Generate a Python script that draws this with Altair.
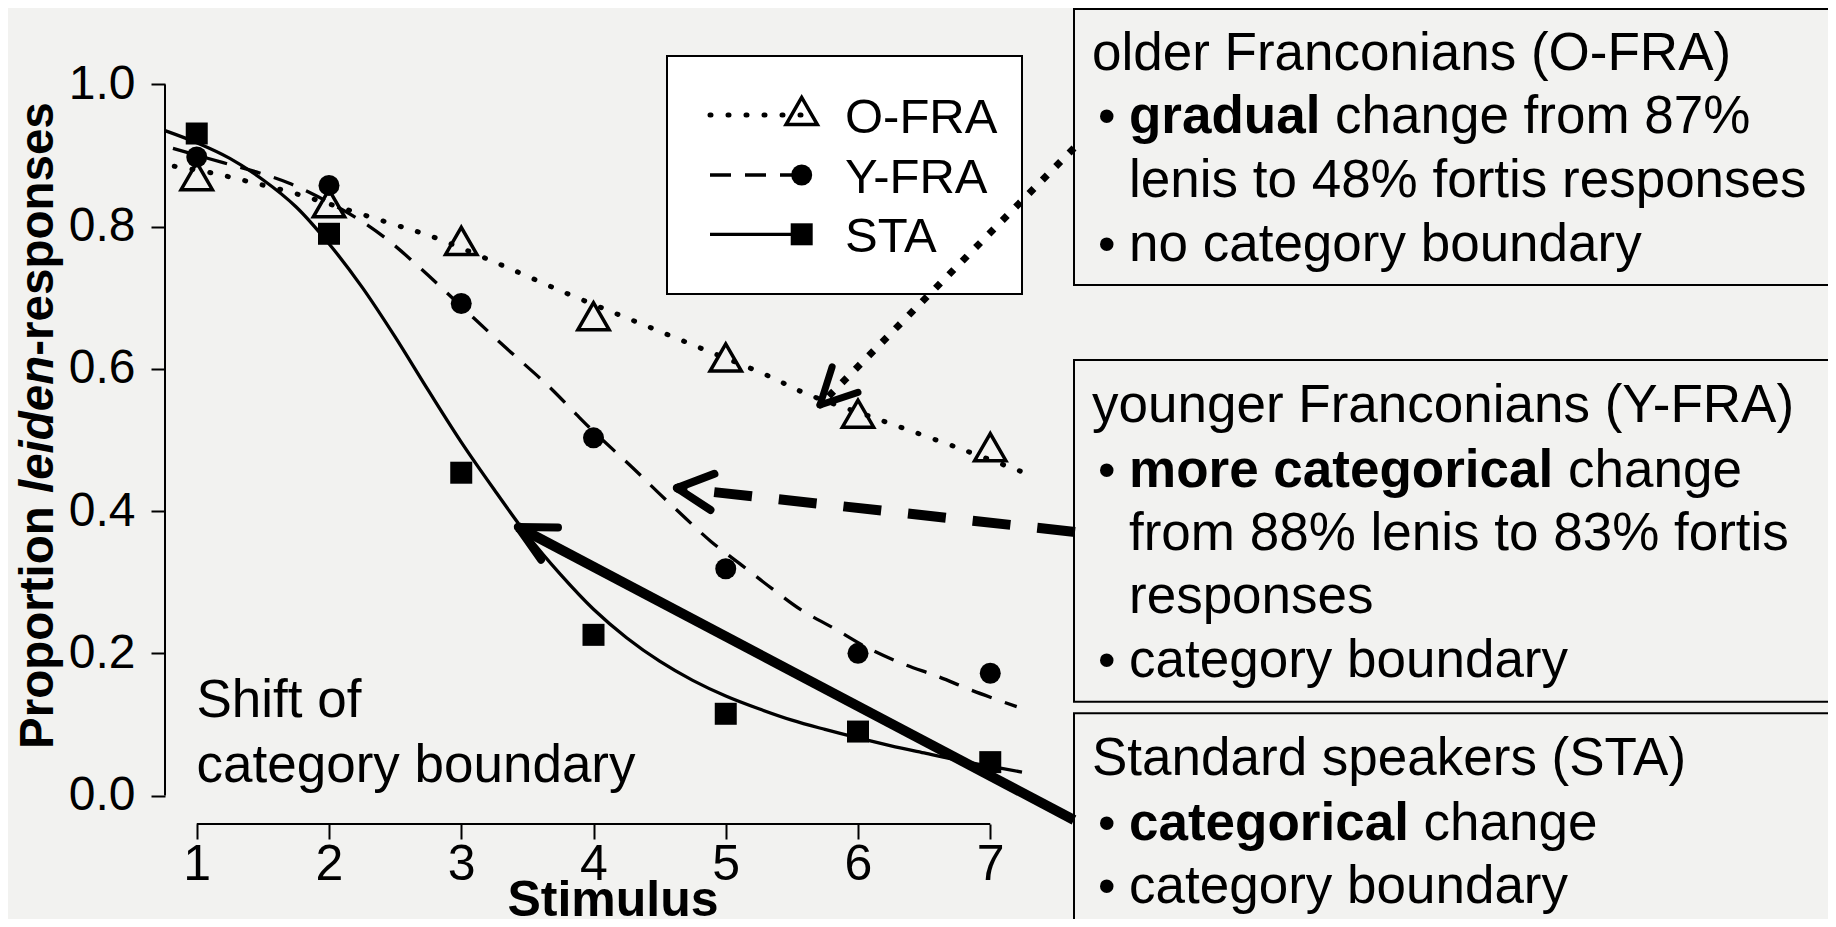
import math
import altair as alt
import pandas as pd

# ---------------- data ----------------
stimulus = [1, 2, 3, 4, 5, 6, 7]
groups = ["O-FRA", "Y-FRA", "STA"]

obs_ofra = [0.871, 0.833, 0.780, 0.674, 0.616, 0.537, 0.490]
obs_yfra = [0.898, 0.858, 0.692, 0.503, 0.319, 0.200, 0.172]
obs_sta = [0.931, 0.790, 0.454, 0.226, 0.115, 0.090, 0.047]

# fitted curves
fit_ofra_x = [0.83, 1.13, 1.4, 1.7, 2.0, 2.51, 2.78, 3.28, 3.8, 4.3, 4.8, 5.3, 5.61, 6.17, 6.8, 7.23]
fit_ofra_y = [0.885, 0.875, 0.863, 0.849, 0.832, 0.802, 0.786, 0.748, 0.706, 0.668, 0.630, 0.592, 0.565, 0.528, 0.486, 0.456]

fit_yfra_x = [0.82, 1.2, 1.45, 1.7, 2.0, 2.21, 2.44, 2.7, 3.0, 3.3, 3.67, 3.87, 4.0, 4.29, 4.49, 4.69,
              4.89, 5.12, 5.35, 5.57, 5.82, 6.07, 6.33, 6.61, 6.86, 7.2]
fit_yfra_y = [0.91, 0.89, 0.877, 0.861, 0.834, 0.812, 0.782, 0.74, 0.688, 0.636, 0.574, 0.536, 0.512, 0.462,
              0.426, 0.391, 0.357, 0.324, 0.291, 0.261, 0.235, 0.208, 0.186, 0.167, 0.148, 0.125]

fit_sta_x = [0.76, 1.0, 1.25, 1.5, 1.75, 2.0, 2.25, 2.5, 2.75, 3.0, 3.25, 3.5, 3.75, 4.0, 4.25, 4.5,
             4.75, 5.0, 5.25, 5.5, 5.75, 6.0, 6.25, 6.5, 6.75, 7.0, 7.24]
fit_sta_y = [0.935, 0.918, 0.896, 0.866, 0.828, 0.776, 0.715, 0.645, 0.570, 0.497, 0.430, 0.366, 0.311,
             0.262, 0.222, 0.189, 0.162, 0.140, 0.122, 0.106, 0.093, 0.081, 0.070, 0.060, 0.050, 0.041, 0.033]

x_ticks = [1, 2, 3, 4, 5, 6, 7]
y_ticks = [0.0, 0.2, 0.4, 0.6, 0.8, 1.0]

x_title = "Stimulus"
y_title_parts = ["Proportion ", "leiden", "-responses"]
shift_text = ["Shift of", "category boundary"]

box_ofra = ["older Franconians (O-FRA)", "gradual", "change from 87%",
            "lenis to 48% fortis responses", "no category boundary"]
box_yfra = ["younger Franconians (Y-FRA)", "more categorical", "change",
            "from 88% lenis to 83% fortis", "responses", "category boundary"]
box_sta = ["Standard speakers (STA)", "categorical", "change", "category boundary"]

# ---------------- styling / layout ----------------
FONT = "Liberation Sans"
INK = "#000000"
BG = "#f2f2f0"
W, H = 857, 768
PAD = {"left": 157, "top": 48, "right": 806, "bottom": 95}
x_dom = [0.76, 7.24]
y_dom = [-0.04, 1.04]
TS = 53  # annotation text size

xs = alt.Scale(domain=x_dom, nice=False, zero=False)
ys = alt.Scale(domain=y_dom, nice=False, zero=False)
x_axis = alt.Axis(values=x_ticks, format="d", title=None, grid=False, domain=False,
                  tickSize=15, tickWidth=2, tickColor=INK, labelFont=FONT, labelFontSize=50,
                  labelColor=INK, labelPadding=0, labelFlush=False, labelOverlap=False)
y_axis = alt.Axis(values=y_ticks, format=".1f", title=None, grid=False, domain=False,
                  tickSize=14, tickWidth=2, tickColor=INK, labelFont=FONT, labelFontSize=48,
                  labelColor=INK, labelPadding=16, labelFlush=False, labelOverlap=False)


def X(f):
    return alt.X(f"{f}:Q", scale=xs, axis=x_axis)


def Y(f):
    return alt.Y(f"{f}:Q", scale=ys, axis=y_axis)


ONE = pd.DataFrame({"a": [0]})


def seg(x1, y1, x2, y2, **style):
    return alt.Chart(ONE).mark_rule(color=INK, **style).encode(
        x=alt.value(x1), y=alt.value(y1), x2=alt.value(x2), y2=alt.value(y2))


def txt(s, x, y, size=TS, weight="normal", style="normal", align="left", angle=0):
    kw = dict(text=s, font=FONT, fontSize=size, fontWeight=weight, fontStyle=style,
              align=align, baseline="alphabetic", color=INK)
    if angle:
        kw["angle"] = angle
    return alt.Chart(ONE).mark_text(**kw).encode(x=alt.value(x), y=alt.value(y))


def box(x1, y1, x2, y2, fill):
    return alt.Chart(ONE).mark_rect(fill=fill, stroke=INK, strokeWidth=2).encode(
        x=alt.value(x1), x2=alt.value(x2), y=alt.value(y1), y2=alt.value(y2))


layers = []

# axis lines spanning the tick range (R style)
xline = pd.DataFrame({"x": [min(x_ticks)], "x2": [max(x_ticks)], "y": [y_dom[0]]})
layers.append(alt.Chart(xline).mark_rule(color=INK, strokeWidth=2).encode(
    x=X("x"), x2="x2:Q", y=Y("y")))
yline = pd.DataFrame({"x": [x_dom[0]], "y": [min(y_ticks)], "y2": [max(y_ticks)]})
layers.append(alt.Chart(yline).mark_rule(color=INK, strokeWidth=2).encode(
    x=X("x"), y=Y("y"), y2="y2:Q"))

line_style = {
    "O-FRA": dict(strokeDash=[1, 17], strokeWidth=5, strokeCap="round"),
    "Y-FRA": dict(strokeDash=[21, 14], strokeWidth=3.3, strokeCap="butt"),
    "STA": dict(strokeWidth=3.3),
}
point_style = {
    "O-FRA": dict(shape="triangle-up", filled=False, size=980, strokeWidth=3.5),
    "Y-FRA": dict(shape="circle", filled=True, size=441),
    "STA": dict(shape="square", filled=True, size=484),
}
fits = {"O-FRA": (fit_ofra_x, fit_ofra_y), "Y-FRA": (fit_yfra_x, fit_yfra_y), "STA": (fit_sta_x, fit_sta_y)}
obs = {"O-FRA": obs_ofra, "Y-FRA": obs_yfra, "STA": obs_sta}

# annotation boxes (right side)
layers.append(box(909, -47, 1700, 229, BG))
layers.append(box(909, 304, 1700, 645.7, BG))
layers.append(box(909, 657.3, 1700, 900, BG))

for g in groups:
    fx, fy = fits[g]
    df = pd.DataFrame({"x": fx, "y": fy})
    layers.append(alt.Chart(df).mark_line(color=INK, interpolate="catmull-rom", **line_style[g]).encode(
        x=X("x"), y=Y("y")))
for g in groups:
    df = pd.DataFrame({"x": stimulus, "y": obs[g]})
    layers.append(alt.Chart(df).mark_point(color=INK, opacity=1, **point_style[g]).encode(
        x=X("x"), y=Y("y")))

# legend
layers.append(box(502, 0, 857, 238, "white"))
leg_rows = {"O-FRA": (59, 55, 77.3), "Y-FRA": (119, 119, 137.3), "STA": (178.3, 178.3, 195.7)}
for g in groups:
    ly, sy, tb = leg_rows[g]
    layers.append(seg(545, ly, 636.7, ly, **line_style[g]))
    layers.append(alt.Chart(ONE).mark_point(color=INK, opacity=1, **point_style[g]).encode(
        x=alt.value(636.7), y=alt.value(sy)))
    layers.append(txt(g, 680, tb, size=49))

# arrows
arrows = [
    dict(tail=(909, 92), tip=(655, 349), shaft=dict(strokeWidth=7, strokeDash=[7, 12], strokeCap="butt"), hw=7),
    dict(tail=(910, 476), tip=(512, 432), shaft=dict(strokeWidth=10, strokeDash=[38, 27], strokeCap="butt"), hw=8),
    dict(tail=(909, 764), tip=(353, 471), shaft=dict(strokeWidth=10, strokeCap="butt"), hw=8),
]
for a in arrows:
    (tx, ty), (px, py) = a["tail"], a["tip"]
    layers.append(seg(tx, ty, px, py, **a["shaft"]))
    ang = math.atan2(ty - py, tx - px)
    for s in (-1, 1):
        t = ang + s * math.radians(27)
        layers.append(seg(px, py, px + 40 * math.cos(t), py + 40 * math.sin(t),
                          strokeWidth=a["hw"], strokeCap="round"))

# box texts
BX_T, BX_B, BX_M = 927, 933, 964
BS = 50  # bullet size
layers += [
    txt(box_ofra[0], BX_T, 13.5),
    txt("•", BX_B, 77, size=BS), txt(box_ofra[1], BX_M, 77, weight="bold"), txt(box_ofra[2], 1170, 77),
    txt(box_ofra[3], BX_M, 140.5),
    txt("•", BX_B, 204.5, size=BS), txt(box_ofra[4], BX_M, 204.5),

    txt(box_yfra[0], BX_T, 365.7),
    txt("•", BX_B, 430.7, size=BS), txt(box_yfra[1], BX_M, 430.7, weight="bold"), txt(box_yfra[2], 1403, 430.7),
    txt(box_yfra[3], BX_M, 494),
    txt(box_yfra[4], BX_M, 557.3),
    txt("•", BX_B, 620.7, size=BS), txt(box_yfra[5], BX_M, 620.7),

    txt(box_sta[0], BX_T, 719),
    txt("•", BX_B, 784, size=BS), txt(box_sta[1], BX_M, 784, weight="bold"), txt(box_sta[2], 1258.5, 784),
    txt("•", BX_B, 847.3, size=BS), txt(box_sta[3], BX_M, 847.3),
]

# in-plot note
layers += [txt(shift_text[0], 31.5, 661), txt(shift_text[1], 31.5, 725.7)]

# axis titles
layers.append(txt(x_title, 448, 860, size=50, weight="bold", align="center"))
YT = 47.5
layers += [
    txt(y_title_parts[0], -112, 693, size=YT, weight="bold", angle=270),
    txt(y_title_parts[1], -112, 437, size=YT, weight="bold", style="italic", angle=270),
    txt(y_title_parts[2], -112, 299.7, size=YT, weight="bold", angle=270),
]

chart = alt.layer(*layers).properties(
    width=W, height=H, padding=PAD,
    autosize=alt.AutoSizeParams(type="none"),
    background=BG,
).configure_view(strokeWidth=0)

chart.save("out.html", embed_options={"renderer": "svg", "actions": False})
